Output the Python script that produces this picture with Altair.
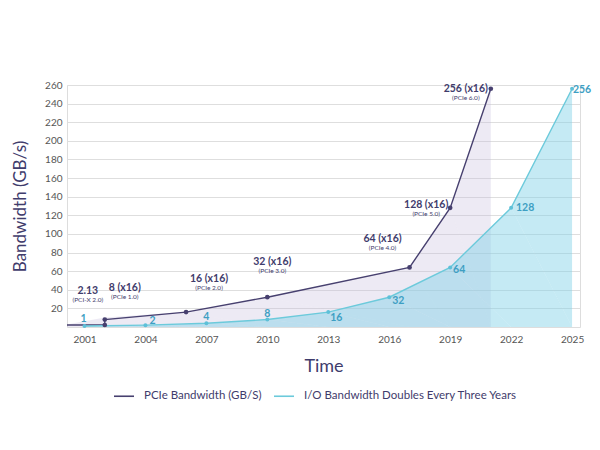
import altair as alt
import pandas as pd

# ---------------- data ----------------
pcie_years = [2000, 2002, 2002, 2006, 2010, 2017, 2019, 2021]
pcie_values = [2.13, 2.13, 8, 16, 32, 64, 128, 256]
pcie_labels = ["", "2.13", "8 (x16)", "16 (x16)", "32 (x16)", "64 (x16)", "128 (x16)", "256 (x16)"]
pcie_gens = ["", "(PCI-X 2.0)", "(PCIe 1.0)", "(PCIe 2.0)", "(PCIe 3.0)", "(PCIe 4.0)", "(PCIe 5.0)", "(PCIe 6.0)"]

io_years = [2001, 2004, 2007, 2010, 2013, 2016, 2019, 2022, 2025]
io_values = [1, 2, 4, 8, 16, 32, 64, 128, 256]
io_labels = ["1", "2", "4", "8", "16", "32", "64", "128", "256"]

series_names = ["PCIe Bandwidth (GB/S)", "I/O Bandwidth Doubles Every Three Years"]
x_ticks = [2001, 2004, 2007, 2010, 2013, 2016, 2019, 2022, 2025]
y_ticks = [20, 40, 60, 80, 100, 120, 140, 160, 180, 200, 220, 240, 260]

# ---------------- tables ----------------
pcie = pd.DataFrame({"year": pcie_years, "value": pcie_values, "label": pcie_labels,
                     "gen": pcie_gens, "series": series_names[0]})
pcie["idx"] = range(len(pcie))
io = pd.DataFrame({"year": io_years, "value": io_values, "label": io_labels, "series": series_names[1]})
io["idx"] = range(len(io))
both = pd.concat([pcie[["year", "value", "series", "idx"]], io[["year", "value", "series", "idx"]]])

# ---------------- styling ----------------
PURPLE = "#47406f"
CYAN = "#6ccadb"
CYAN_TXT = "#3e9fc3"
NAVY = "#3f3c6c"
FONT = "Lato"

X = alt.X("year:Q",
          scale=alt.Scale(domain=[2000.14, 2025.39], nice=False, zero=False),
          axis=alt.Axis(values=x_ticks, format="d", title="Time", grid=False, domain=False,
                        ticks=False, labelPadding=7, labelFontSize=10, labelColor="#555555",
                        labelFont=FONT, titleFont=FONT, titleFontSize=18, titleFontWeight="normal",
                        titleColor=NAVY, titleY=39, titleBaseline="middle"))
Y = alt.Y("value:Q",
          scale=alt.Scale(domain=[0, 260], nice=False),
          axis=alt.Axis(values=y_ticks, title="Bandwidth (GB/s)", grid=True, gridColor="#dedede",
                        gridWidth=1, domain=False, ticks=False, labelPadding=5, labelFontSize=10,
                        labelColor="#555555", labelFont=FONT, titleFont=FONT, titleFontSize=17,
                        titleFontWeight="normal", titleColor=NAVY, titleX=-47, titleY=121,
                        titleAngle=-90, titleAlign="center", titleBaseline="middle"))

order = alt.Order("idx:Q")

pcie_area = alt.Chart(pcie).mark_area(color="#c3b8dc", opacity=0.3, clip=True).encode(x=X, y=Y, order=order)
io_area = alt.Chart(io).mark_area(color="#7fd0e6", opacity=0.45, clip=True).encode(x=X, y=Y, order=order)

lines = alt.Chart(both).mark_line(strokeWidth=1.4, clip=True).encode(
    x=X, y=Y, detail="series:N", order=order,
    color=alt.Color("series:N",
                    scale=alt.Scale(domain=series_names, range=[PURPLE, CYAN]),
                    legend=alt.Legend(title=None, orient="none", direction="horizontal",
                                      legendX=46, legendY=300, symbolType="stroke",
                                      symbolStrokeWidth=1.6, symbolSize=400, labelFont=FONT,
                                      labelFontSize=11.5, labelColor=NAVY, columnPadding=8,
                                      labelOffset=9, labelLimit=400)))

pcie_dots = alt.Chart(pcie).transform_filter("datum.idx > 0").mark_circle(
    size=22, color=PURPLE, opacity=1).encode(x=X, y=Y)
io_dots = alt.Chart(io).mark_circle(size=16, color="#5ec0d8", opacity=1).encode(x=X, y=Y)

layers = [pcie_area, io_area, lines, pcie_dots, io_dots]

pcie_main_off = [(-17, -34), (20, -32), (23, -33), (5, -35), (-27, -28), (-24, -3), (-25, 0)]
for i, (dx, dy) in enumerate(pcie_main_off, start=1):
    base = alt.Chart(pcie).transform_filter(alt.datum.idx == i)
    layers.append(base.mark_text(dx=dx, dy=dy, font=FONT, fontSize=10.5, fontWeight="bold",
                                 color=NAVY, align="center", baseline="middle").encode(
        x=X, y=Y, text="label:N"))
    layers.append(base.mark_text(dx=dx, dy=dy + 9, font=FONT, fontSize=6.5,
                                 color=NAVY, align="center", baseline="middle").encode(
        x=X, y=Y, text="gen:N"))

io_off = [(-1, -7), (7, -4), (0, -6), (0, -6), (8, 6), (9, 4), (9, 3), (14, 0), (10, 1)]
for i, (dx, dy) in enumerate(io_off):
    layers.append(alt.Chart(io).transform_filter(alt.datum.idx == i).mark_text(
        dx=dx, dy=dy, font=FONT, fontSize=10.5, fontWeight="bold", color=CYAN_TXT,
        align="center", baseline="middle").encode(x=X, y=Y, text="label:N"))

chart = alt.layer(*layers).properties(
    width=513, height=242,
    autosize=alt.AutoSizeParams(type="none"),
    padding={"left": 59, "top": 77, "right": 12, "bottom": 115},
).configure_view(stroke=None).configure(background="white")

chart.save("out.html", embed_options={"renderer": "svg", "actions": False})
